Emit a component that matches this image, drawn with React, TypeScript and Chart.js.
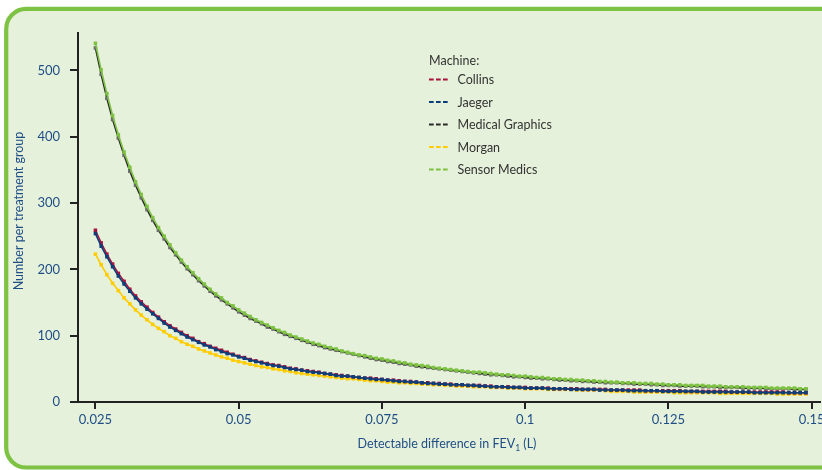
import React, { useEffect, useRef } from 'react';
import { Chart, registerables } from 'chart.js';

Chart.register(...registerables);

// Detectable difference in FEV1 (L)
const fevDifference = [
  0.025, 0.026, 0.027, 0.028, 0.029, 0.030, 0.031, 0.032, 0.033, 0.034,
  0.035, 0.036, 0.037, 0.038, 0.039, 0.040, 0.041, 0.042, 0.043, 0.044,
  0.045, 0.046, 0.047, 0.048, 0.049, 0.050, 0.051, 0.052, 0.053, 0.054,
  0.055, 0.056, 0.057, 0.058, 0.059, 0.060, 0.061, 0.062, 0.063, 0.064,
  0.065, 0.066, 0.067, 0.068, 0.069, 0.070, 0.071, 0.072, 0.073, 0.074,
  0.075, 0.076, 0.077, 0.078, 0.079, 0.080, 0.081, 0.082, 0.083, 0.084,
  0.085, 0.086, 0.087, 0.088, 0.089, 0.090, 0.091, 0.092, 0.093, 0.094,
  0.095, 0.096, 0.097, 0.098, 0.099, 0.100, 0.101, 0.102, 0.103, 0.104,
  0.105, 0.106, 0.107, 0.108, 0.109, 0.110, 0.111, 0.112, 0.113, 0.114,
  0.115, 0.116, 0.117, 0.118, 0.119, 0.120, 0.121, 0.122, 0.123, 0.124,
  0.125, 0.126, 0.127, 0.128, 0.129, 0.130, 0.131, 0.132, 0.133, 0.134,
  0.135, 0.136, 0.137, 0.138, 0.139, 0.140, 0.141, 0.142, 0.143, 0.144,
  0.145, 0.146, 0.147, 0.148, 0.149,
];

// Number per treatment group, per machine
const collins = [
  259, 240, 223, 208, 194, 182, 170, 160, 151, 143,
  135, 128, 121, 115, 110, 105, 100, 96, 91, 88,
  84, 81, 78, 75, 72, 69, 67, 64, 62, 60,
  58, 56, 55, 53, 51, 50, 48, 47, 46, 45,
  43, 42, 41, 40, 39, 38, 37, 36, 36, 35,
  34, 33, 33, 32, 31, 31, 30, 29, 29, 28,
  28, 27, 27, 26, 26, 25, 25, 25, 24, 24,
  23, 23, 23, 22, 22, 22, 21, 21, 21, 21,
  20, 20, 20, 20, 20, 19, 19, 19, 19, 19,
  18, 18, 18, 18, 18, 18, 17, 17, 17, 17,
  17, 17, 17, 16, 16, 16, 16, 16, 16, 16,
  16, 15, 15, 15, 15, 15, 15, 15, 15, 15,
  15, 14, 14, 14, 14,
];

const jaeger = [
  254, 235, 219, 204, 190, 178, 167, 157, 148, 140,
  133, 126, 119, 113, 108, 103, 98, 94, 90, 86,
  83, 79, 76, 73, 71, 68, 66, 63, 61, 59,
  57, 55, 54, 52, 50, 49, 48, 46, 45, 44,
  43, 42, 40, 39, 39, 38, 37, 36, 35, 34,
  34, 33, 32, 31, 31, 30, 30, 29, 28, 28,
  27, 27, 26, 26, 26, 25, 25, 24, 24, 23,
  23, 23, 22, 22, 22, 21, 21, 21, 21, 20,
  20, 20, 20, 19, 19, 19, 19, 19, 18, 18,
  18, 18, 18, 17, 17, 17, 17, 17, 17, 16,
  16, 16, 16, 16, 16, 16, 15, 15, 15, 15,
  15, 15, 15, 15, 15, 14, 14, 14, 14, 14,
  14, 14, 14, 14, 14,
];

const medicalGraphics = [
  534, 494, 458, 426, 398, 372, 348, 327, 308, 290,
  274, 259, 246, 233, 222, 211, 201, 192, 183, 175,
  167, 160, 154, 148, 142, 136, 131, 126, 122, 118,
  113, 110, 106, 102, 99, 96, 93, 90, 87, 85,
  82, 80, 78, 76, 74, 72, 70, 68, 66, 64,
  63, 61, 60, 58, 57, 56, 54, 53, 52, 51,
  50, 49, 48, 47, 46, 45, 44, 43, 42, 41,
  41, 40, 39, 38, 38, 37, 36, 36, 35, 35,
  34, 33, 33, 32, 32, 31, 31, 30, 30, 29,
  29, 29, 28, 28, 27, 27, 27, 26, 26, 25,
  25, 25, 24, 24, 24, 24, 23, 23, 23, 22,
  22, 22, 22, 21, 21, 21, 21, 20, 20, 20,
  20, 20, 19, 19, 19,
];

const morgan = [
  223, 207, 192, 179, 168, 157, 148, 139, 131, 124,
  117, 111, 106, 100, 96, 91, 87, 84, 80, 77,
  74, 71, 68, 66, 63, 61, 59, 57, 55, 53,
  52, 50, 49, 47, 46, 44, 43, 42, 41, 40,
  39, 38, 37, 36, 35, 35, 34, 33, 32, 32,
  31, 30, 30, 29, 29, 28, 28, 27, 27, 26,
  26, 25, 25, 24, 24, 24, 23, 23, 23, 22,
  22, 22, 21, 21, 21, 20, 20, 20, 20, 19,
  19, 19, 19, 19, 18, 18, 18, 18, 18, 17,
  16, 16, 16, 16, 15, 15, 15, 15, 15, 15,
  15, 14, 14, 14, 14, 14, 14, 14, 14, 13,
  13, 13, 13, 13, 13, 13, 13, 13, 13, 12,
  12, 12, 12, 12, 12,
];

const sensorMedics = [
  541, 501, 465, 432, 403, 377, 354, 332, 313, 295,
  278, 263, 250, 237, 225, 214, 204, 195, 186, 178,
  170, 163, 157, 150, 145, 139, 134, 129, 124, 120,
  116, 112, 108, 105, 101, 98, 95, 92, 89, 87,
  84, 82, 80, 77, 75, 73, 71, 70, 68, 66,
  65, 63, 62, 60, 59, 57, 56, 55, 54, 52,
  51, 50, 49, 48, 47, 46, 45, 45, 44, 43,
  42, 41, 41, 40, 39, 39, 38, 37, 37, 36,
  35, 35, 34, 34, 33, 33, 32, 32, 31, 31,
  30, 30, 29, 29, 29, 28, 28, 28, 27, 27,
  26, 26, 26, 25, 25, 25, 25, 24, 24, 24,
  23, 23, 23, 23, 22, 22, 22, 22, 21, 21,
  21, 21, 21, 20, 20,
];

const seriesLabels = ['Collins', 'Jaeger', 'Medical Graphics', 'Morgan', 'Sensor Medics'];
const seriesValues = [collins, jaeger, medicalGraphics, morgan, sensorMedics];
const yTickValues = [0, 100, 200, 300, 400, 500];
const xTickValues = [0.025, 0.05, 0.075, 0.1, 0.125, 0.15];
const xTickLabels = ['0.025', '0.05', '0.075', '0.1', '0.125', '0.15'];
const legendTitle = 'Machine:';
const yAxisTitle = 'Number per treatment group';
const xAxisTitleMain = 'Detectable difference in FEV';
const xAxisTitleSub = '1';
const xAxisTitleTail = ' (L)';

const LINE_COLORS = ['#a8133d', '#0c3f7a', '#2a2a2a', '#ffcc00', '#7dc242'];
const POINT_COLORS = ['#a8133d', '#0c3f7a', '#6a6a6a', '#ffcc00', '#7dc242'];
const DRAW_ORDER = [2, 1, 4, 3, 0];
const BLUE = '#1f4e86';
const FONT = 'Lato, "Open Sans", sans-serif';

const framePlugin = {
  id: 'frame',
  beforeDraw(chart: any) {
    const ctx = chart.ctx as CanvasRenderingContext2D;
    ctx.save();
    ctx.fillStyle = '#ffffff';
    ctx.fillRect(0, 0, chart.width, chart.height);
    const x = 6.2, y = 8.9, w = 900, h = 458.6, r = 20;
    ctx.beginPath();
    ctx.moveTo(x + r, y);
    ctx.lineTo(x + w - r, y);
    ctx.arcTo(x + w, y, x + w, y + r, r);
    ctx.lineTo(x + w, y + h - r);
    ctx.arcTo(x + w, y + h, x + w - r, y + h, r);
    ctx.lineTo(x + r, y + h);
    ctx.arcTo(x, y + h, x, y + h - r, r);
    ctx.lineTo(x, y + r);
    ctx.arcTo(x, y, x + r, y, r);
    ctx.closePath();
    ctx.fillStyle = '#e6f1db';
    ctx.fill();
    ctx.lineWidth = 4.2;
    ctx.strokeStyle = '#7dc242';
    ctx.stroke();
    ctx.restore();
  },
};

const textPlugin = {
  id: 'texts',
  afterDraw(chart: any) {
    const ctx = chart.ctx as CanvasRenderingContext2D;
    // y axis title
    ctx.save();
    ctx.fillStyle = BLUE;
    ctx.font = `12.5px ${FONT}`;
    ctx.textAlign = 'center';
    ctx.textBaseline = 'alphabetic';
    ctx.translate(23, 211);
    ctx.rotate(-Math.PI / 2);
    ctx.fillText(yAxisTitle, 0, 0);
    ctx.restore();

    // x axis title with subscript
    ctx.save();
    ctx.fillStyle = BLUE;
    ctx.textBaseline = 'alphabetic';
    ctx.textAlign = 'left';
    const mainFont = `12.5px ${FONT}`;
    const subFont = `8.5px ${FONT}`;
    ctx.font = mainFont;
    const w1 = ctx.measureText(xAxisTitleMain).width;
    const w3 = ctx.measureText(xAxisTitleTail).width;
    ctx.font = subFont;
    const w2 = ctx.measureText(xAxisTitleSub).width;
    let sx = 447 - (w1 + w2 + w3) / 2;
    const by = 448;
    ctx.font = mainFont;
    ctx.fillText(xAxisTitleMain, sx, by);
    sx += w1;
    ctx.font = subFont;
    ctx.fillText(xAxisTitleSub, sx, by + 2.5);
    sx += w2;
    ctx.font = mainFont;
    ctx.fillText(xAxisTitleTail, sx, by);
    ctx.restore();

    // legend
    ctx.save();
    ctx.fillStyle = '#333333';
    ctx.font = `12.5px ${FONT}`;
    ctx.textAlign = 'left';
    ctx.textBaseline = 'middle';
    ctx.fillText(legendTitle, 429, 60.5);
    const datasets = chart.data.datasets;
    datasets.forEach((ds: any, i: number) => {
      const cy = 79.5 + i * 22.5;
      ctx.beginPath();
      ctx.setLineDash([4.7, 2.3]);
      ctx.lineWidth = 2;
      ctx.strokeStyle = ds.borderColor;
      ctx.moveTo(429, cy);
      ctx.lineTo(448.5, cy);
      ctx.stroke();
      ctx.setLineDash([]);
      ctx.fillStyle = '#333333';
      ctx.fillText(ds.label, 457.5, cy + 0.5);
    });
    ctx.restore();
  },
};

export default function App() {
  const canvasRef = useRef<HTMLCanvasElement | null>(null);

  useEffect(() => {
    if (!canvasRef.current) return;
    Chart.defaults.font.family = FONT;
    const datasets = seriesLabels.map((label, i) => ({
      label,
      data: fevDifference.map((x, j) => ({ x, y: seriesValues[i][j] })),
      borderColor: LINE_COLORS[i],
      backgroundColor: POINT_COLORS[i],
      pointBackgroundColor: POINT_COLORS[i],
      borderWidth: 1.6,
      pointRadius: 2.5,
      pointStyle: 'rect',
      pointBorderWidth: 0,
      tension: 0,
      order: DRAW_ORDER[i],
    }));
    const chart = new Chart(canvasRef.current, {
      type: 'line',
      data: { datasets },
      options: {
        animation: false,
        responsive: false,
        devicePixelRatio: 1,
        layout: { padding: { left: 0, top: 33, right: 40, bottom: 0 } },
        plugins: {
          legend: { display: false },
          tooltip: { enabled: false },
        },
        scales: {
          x: {
            type: 'linear',
            min: 0.02196,
            max: 0.15145,
            afterBuildTicks: (scale: any) => {
              scale.ticks = xTickValues.map((v) => ({ value: v }));
            },
            afterFit: (scale: any) => {
              scale.height = 68;
            },
            ticks: {
              color: BLUE,
              font: { size: 13 },
              padding: 3,
              maxRotation: 0,
              autoSkip: false,
              callback: (_v: any, idx: number) => xTickLabels[idx],
            },
            grid: {
              display: true,
              drawOnChartArea: false,
              drawTicks: true,
              tickLength: 7,
              color: '#222222',
              lineWidth: 2,
            },
            border: { display: true, color: '#222222', width: 2 },
          },
          y: {
            type: 'linear',
            min: 0,
            max: 556.5,
            afterBuildTicks: (scale: any) => {
              scale.ticks = yTickValues.map((v) => ({ value: v }));
            },
            afterFit: (scale: any) => {
              scale.width = 78;
            },
            ticks: {
              color: BLUE,
              font: { size: 13 },
              padding: 10,
              autoSkip: false,
              callback: (_v: any, idx: number) => String(yTickValues[idx]),
            },
            grid: {
              display: true,
              drawOnChartArea: false,
              drawTicks: true,
              tickLength: 8,
              color: '#222222',
              lineWidth: 2,
            },
            border: { display: true, color: '#222222', width: 2 },
          },
        },
      } as any,
      plugins: [framePlugin, textPlugin],
    });
    return () => chart.destroy();
  }, []);

  return (
    <div
      style={{
        position: 'fixed',
        left: 0,
        top: 0,
        width: 822,
        height: 470,
        overflow: 'hidden',
        background: '#ffffff',
      }}
    >
      <canvas ref={canvasRef} width={860} height={470} style={{ width: 860, height: 470, display: 'block' }} />
    </div>
  );
}
